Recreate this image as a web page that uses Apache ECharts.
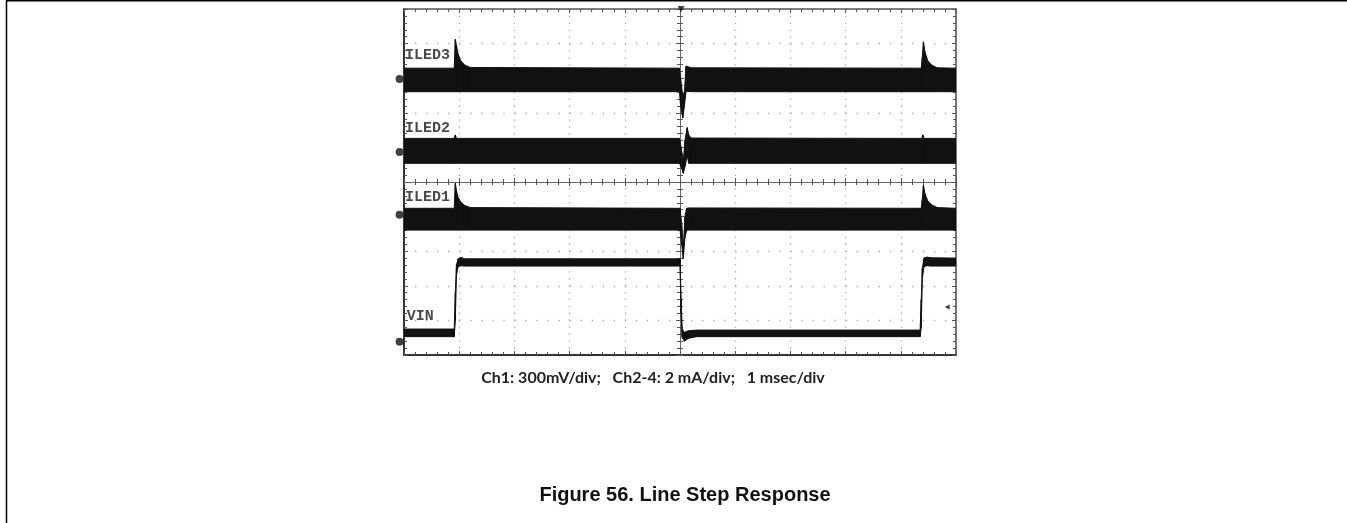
<!DOCTYPE html>
<html><head><meta charset="utf-8">
<script src="https://cdn.jsdelivr.net/npm/echarts@6/dist/echarts.min.js"></script>
<style>html,body{margin:0;padding:0;background:#fff}#c{width:1347px;height:523px}</style>
</head><body><div id="c"></div>
<script>
// time axis: msec (1 msec/div), vertical axis: divisions (center = 0)
const T_MIN = -5, T_MAX = 5, Y_MIN = -5, Y_MAX = 5;

// ILED3 envelope (upper / lower, in divisions)
const iled3T  = [-5, -4.09, -4.07, -4.05, -4.02, -3.97, -3.9, -3.8, -0.01, 0.01, 0.05, 0.08, 0.11, 0.2, 4.37, 4.39, 4.41, 4.44, 4.49, 4.56, 4.66, 5];
const iled3Hi = [3.29, 3.29, 4.12, 3.95, 3.7, 3.5, 3.38, 3.31, 3.29, 3.0, 2.5, 2.6, 3.35, 3.3, 3.29, 3.6, 4.05, 3.75, 3.5, 3.38, 3.3, 3.29];
const iled3Lo = [2.61, 2.61, 2.61, 2.61, 2.61, 2.61, 2.61, 2.61, 2.61, 2.2, 1.85, 2.2, 2.62, 2.61, 2.61, 2.61, 2.61, 2.61, 2.61, 2.61, 2.61, 2.61];

// ILED2 envelope
const iled2T  = [-5, -4.09, -4.07, -4.05, -0.01, 0.02, 0.06, 0.09, 0.13, 0.16, 0.2, 4.38, 4.40, 4.42, 5];
const iled2Hi = [1.26, 1.26, 1.36, 1.26, 1.26, 1.0, 0.6, 1.2, 1.57, 1.35, 1.27, 1.26, 1.36, 1.26, 1.26];
const iled2Lo = [0.54, 0.54, 0.54, 0.54, 0.54, 0.45, 0.25, 0.45, 0.75, 0.54, 0.54, 0.54, 0.54, 0.54, 0.54];

// ILED1 envelope
const iled1T  = [-5, -4.09, -4.07, -4.05, -4.02, -3.97, -3.9, -3.8, 0.0, 0.03, 0.06, 0.09, 0.12, 0.16, 4.37, 4.39, 4.41, 4.44, 4.49, 4.56, 4.66, 5];
const iled1Hi = [-0.76, -0.76, -0.04, -0.25, -0.45, -0.58, -0.68, -0.74, -0.76, -1.2, -1.9, -1.0, -0.76, -0.75, -0.76, -0.5, -0.09, -0.35, -0.55, -0.66, -0.74, -0.76];
const iled1Lo = [-1.39, -1.39, -1.39, -1.39, -1.39, -1.39, -1.39, -1.39, -1.39, -1.8, -2.21, -1.6, -1.4, -1.39, -1.39, -1.39, -1.39, -1.39, -1.39, -1.39, -1.39, -1.39];

// VIN envelope
const vinT  = [-5, -4.09, -4.07, -4.05, -4.02, -3.97, -3.9, 0.0, 0.02, 0.04, 0.08, 0.15, 0.3, 4.35, 4.37, 4.39, 4.42, 4.47, 4.55, 5];
const vinHi = [-4.25, -4.25, -3.2, -2.4, -2.22, -2.18, -2.22, -2.22, -3.4, -4.25, -4.35, -4.3, -4.28, -4.28, -3.4, -2.5, -2.2, -2.17, -2.19, -2.2];
const vinLo = [-4.47, -4.47, -4.0, -2.7, -2.45, -2.42, -2.43, -2.43, -3.8, -4.5, -4.6, -4.52, -4.47, -4.47, -4.2, -2.8, -2.45, -2.42, -2.43, -2.43];

// channel names, label anchor points and ground-level markers
const chNames  = ['ILED3', 'ILED2', 'ILED1', 'VIN'];
const labelX   = [-4.98, -4.98, -4.98, -4.95];
const labelY   = [3.67, 1.56, -0.43, -3.87];
const groundX  = [-5.08, -5.08, -5.08, -5.08];
const groundY  = [2.98, 0.87, -0.95, -4.62];
const trigger  = [0.02, 5.0];
const refArrow = [4.84, -3.61];

const caption = 'Ch1: 300mV/div;   Ch2-4: 2 mA/div;   1 msec/div';
const figTitle = 'Figure 56. Line Step Response';

const INK = '#111';

// a noise band drawn as polygons between upper and lower envelopes
function band(name, t, hi, lo) {
  const pts = t.map((x, i) => [x, hi[i], lo[i]]);
  return {
    type: 'custom', name: name, silent: true, z: 3, clip: true,
    encode: { x: 0, y: [1, 2] },
    data: pts,
    renderItem: function (params, api) {
      const i = params.dataIndex;
      if (i >= pts.length - 1) return null;
      const a = pts[i], b = pts[i + 1];
      const p = [api.coord([a[0], a[1]]), api.coord([b[0], b[1]]), api.coord([b[0], b[2]]), api.coord([a[0], a[2]])];
      return { type: 'polygon', shape: { points: p },
        style: { fill: INK, stroke: INK, lineWidth: 1, lineJoin: 'round' } };
    }
  };
}

const tickCol = '#555';
function xAx(pos, onZero, inside, split, lineCol, lineW) {
  return {
    type: 'value', min: T_MIN, max: T_MAX, interval: 1, position: pos,
    axisLine: { show: true, onZero: onZero, onZeroAxisIndex: onZero ? 0 : undefined, lineStyle: { color: lineCol, width: lineW } },
    axisTick: { show: true, inside: inside, length: 4, lineStyle: { color: tickCol } },
    minorTick: { show: true, splitNumber: 5, length: 3, lineStyle: { color: tickCol } },
    axisLabel: { show: false },
    splitLine: { show: split, lineStyle: { color: '#a8a8a8', width: 1.3, type: [1.3, 5.6] } },
    minorSplitLine: { show: false }
  };
}
function yAx(pos, onZero, inside, split, lineCol, lineW) {
  return {
    type: 'value', min: Y_MIN, max: Y_MAX, interval: 1, position: pos,
    axisLine: { show: true, onZero: onZero, onZeroAxisIndex: onZero ? 0 : undefined, lineStyle: { color: lineCol, width: lineW } },
    axisTick: { show: true, inside: inside, length: 4, lineStyle: { color: tickCol } },
    minorTick: { show: true, splitNumber: 5, length: 3, lineStyle: { color: tickCol } },
    axisLabel: { show: false },
    splitLine: { show: split, lineStyle: { color: '#a8a8a8', width: 1.3, type: [1.3, 9.74] } },
    minorSplitLine: { show: false }
  };
}

const chart = echarts.init(document.getElementById('c'), null, { renderer: 'canvas' });
chart.setOption({
  animation: false,
  backgroundColor: '#fff',
  grid: { left: 404, top: 9, width: 552, height: 346, show: false },
  xAxis: [
    xAx('bottom', false, true, true, '#333', 2),
    xAx('top', false, true, false, '#555', 1.5),
    xAx('bottom', true, true, false, '#666', 1),
    xAx('bottom', true, false, false, '#666', 1)
  ],
  yAxis: [
    yAx('left', false, true, true, '#333', 2),
    yAx('right', false, true, false, '#777', 2),
    yAx('left', true, true, false, '#666', 1),
    yAx('left', true, false, false, '#666', 1)
  ],
  series: [
    band('ILED3', iled3T, iled3Hi, iled3Lo),
    band('ILED2', iled2T, iled2Hi, iled2Lo),
    band('ILED1', iled1T, iled1Hi, iled1Lo),
    band('VIN', vinT, vinHi, vinLo),
    { type: 'scatter', name: 'labels', symbolSize: 0, clip: false, silent: true, z: 5,
      data: chNames.map((n, i) => ({ name: n, value: [labelX[i], labelY[i]] })),
      label: { show: true, position: 'right', distance: 0, formatter: p => p.name,
        fontFamily: 'Liberation Mono', fontWeight: 'bold', fontSize: 15, color: '#1a1a1a' } },
    { type: 'scatter', name: 'ground', symbol: 'circle', symbolSize: 8, clip: false, silent: true, z: 6,
      itemStyle: { color: INK },
      data: groundX.map((x, i) => [x, groundY[i]]) },
    { type: 'scatter', name: 'trigger', symbol: 'triangle', symbolRotate: 180, symbolSize: [7, 6], clip: false, silent: true, z: 6,
      itemStyle: { color: INK }, data: [trigger] },
    { type: 'scatter', name: 'ref', symbol: 'triangle', symbolRotate: 90, symbolSize: [5, 5], clip: false, silent: true, z: 6,
      itemStyle: { color: INK }, data: [refArrow] }
  ],
  graphic: [
    { type: 'line', shape: { x1: 6.5, y1: 0, x2: 6.5, y2: 523 }, style: { stroke: '#000', lineWidth: 1.5 } },
    { type: 'line', shape: { x1: 6, y1: 0.75, x2: 1347, y2: 0.75 }, style: { stroke: '#000', lineWidth: 1.5 } },
    { type: 'text', x: 653, y: 370, style: { text: caption, font: 'bold 16px Lato', fill: '#222', textAlign: 'center', textVerticalAlign: 'top' } },
    { type: 'text', x: 685, y: 485, style: { text: figTitle, font: 'bold 20px "Liberation Sans"', fill: '#111', textAlign: 'center', textVerticalAlign: 'top' } }
  ]
});
</script></body></html>
